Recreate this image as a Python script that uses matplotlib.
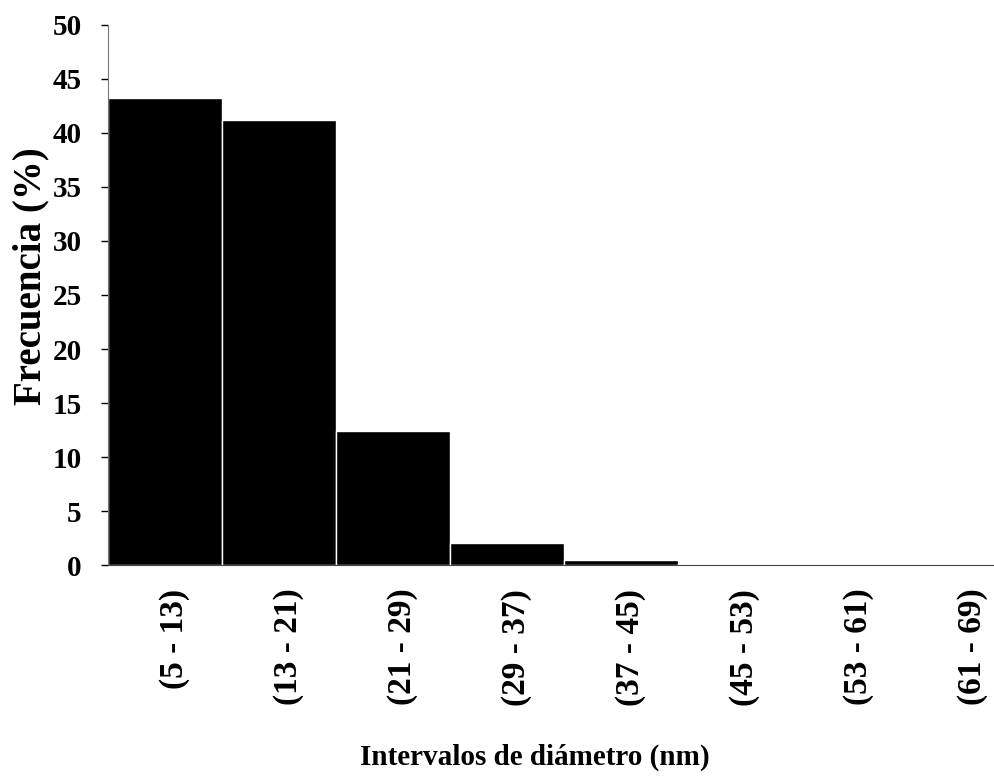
import matplotlib
matplotlib.use("Agg")
import matplotlib.pyplot as plt
import matplotlib.transforms as mtransforms
import numpy as np

# intervalos de diámetro y frecuencias
intervalos = ["(5 - 13)", "(13 - 21)", "(21 - 29)", "(29 - 37)",
              "(37 - 45)", "(45 - 53)", "(53 - 61)", "(61 - 69)"]
frecuencia = [43.2, 41.2, 12.4, 2.0, 0.5, 0.1, 0.1, 0.1]

plt.rcParams['font.family'] = ['Liberation Serif', 'DejaVu Serif']
plt.rcParams['font.weight'] = 'bold'

fig = plt.figure(figsize=(9.94, 7.8), dpi=100)
# el eje se sale un poco por la derecha, como en la figura original
ax = fig.add_axes([0.1087, 0.2756, 0.9175, 0.6924])

x = np.arange(len(intervalos))
ax.bar(x, frecuencia, width=1.0, color='black', edgecolor='white', linewidth=1.0, align='center')

ax.set_xlim(-0.5, len(intervalos) - 0.5)
ax.set_ylim(0, 50)
ax.set_yticks(np.arange(0, 51, 5))
ax.set_xticks(x)
ax.set_xticklabels(intervalos, rotation=90, fontsize=24, fontweight='bold')
ax.tick_params(axis='y', labelsize=21, length=5, direction='out', width=1, pad=14)
ax.tick_params(axis='x', length=0, pad=17)
for lab in ax.get_yticklabels():
    lab.set_fontweight('bold')
# etiquetas algo desplazadas a la derecha
offset = mtransforms.ScaledTranslation(0.09, 0, fig.dpi_scale_trans)
for lab in ax.get_xticklabels():
    lab.set_transform(lab.get_transform() + offset)

ax.spines['top'].set_visible(False)
ax.spines['right'].set_visible(False)
ax.spines['left'].set_color('#777777')
ax.spines['bottom'].set_color('#444444')

ax.set_ylabel("Frecuencia (%)", fontsize=28, fontweight='bold')
ax.yaxis.set_label_coords(-0.064, 0.535)
ax.set_xlabel("Intervalos de diámetro (nm)", fontsize=21, fontweight='bold')
ax.xaxis.set_label_coords(0.468, -0.33)

fig.savefig("out.png", dpi=100)
